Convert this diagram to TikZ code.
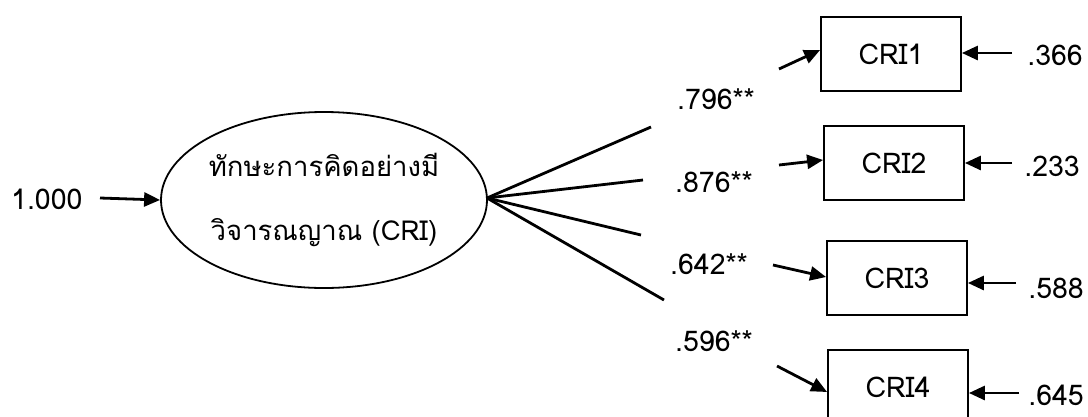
\documentclass[tikz,border=0pt]{standalone}
\usepackage{fontspec}
\setmainfont[Script=Thai]{Loma}
\usetikzlibrary{shapes.geometric,arrows.meta}
\begin{document}
\begin{tikzpicture}[x=1pt,y=-1pt,
  txt/.style={font=\fontsize{28.5}{32}\selectfont, inner sep=0pt},
  latent/.style={draw, ellipse, line width=1.8pt, minimum width=326pt, minimum height=176pt, inner sep=0pt,
    align=center, font=\fontsize{27.5}{64}\selectfont},
  observed/.style={draw, rectangle, line width=1.8pt, minimum width=140pt, minimum height=74pt, inner sep=0pt,
    font=\fontsize{28.5}{32}\selectfont},
  path/.style={line width=2.8pt},
  arr/.style={line width=2.8pt, -{Triangle[length=16pt,width=14pt]}}]
\clip (0,0) rectangle (1088,416);
\fill[white] (0,0) rectangle (1088,416);

% latent factor and its variance
\node[latent] (f) at (324,200) {ทักษะการคิดอย่างมี\\วิจารณญาณ (CRI)};
\node[txt, anchor=west] (fv) at (11,199) {1.000};
\coordinate (fvs) at (100,198);
\draw[arr] (fvs) -- (f.west);

% indicators
\node[observed] (c1) at (891,54) {CRI1};
\node[observed] (c2) at (894,163) {CRI2};
\node[observed] (c3) at (897,278) {CRI3};
\node[observed] (c4) at (898,387) {CRI4};

% loading lines fanning out of the factor
\coordinate (fo) at (487,198);
\coordinate (l1) at (651,127);
\coordinate (l2) at (643,180);
\coordinate (l3) at (641,235);
\coordinate (l4) at (664,300);
\foreach \i in {1,...,4} \draw[path] (fo) -- (l\i);

% loading labels
\node[txt] (w1) at (716,99) {.796**};
\node[txt] (w2) at (714,182) {.876**};
\node[txt] (w3) at (709,264) {.642**};
\node[txt] (w4) at (714,341) {.596**};

% arrows into the indicators
\coordinate (a1) at (779,69);
\coordinate (a2) at (779,165);
\coordinate (a3) at (773,265);
\coordinate (a4) at (777,366);
\draw[arr] (a1) -- (c1.west |- 0,50);
\draw[arr] (a2) -- (c2.west |- 0,160);
\draw[arr] (a3) -- (c3.west |- 0,277);
\draw[arr] (a4) -- (c4.west |- 0,392);

% error variances
\node[txt, anchor=east] (e1) at (1083,55) {.366};
\node[txt, anchor=east] (e2) at (1080,166) {.233};
\node[txt, anchor=east] (e3) at (1084,288) {.588};
\node[txt, anchor=east] (e4) at (1084,395) {.645};
\coordinate (r1) at (1012,53);
\coordinate (r2) at (1012,163);
\coordinate (r3) at (1016,283);
\coordinate (r4) at (1019,393);
\draw[arr] (r1) -- (c1.east |- r1);
\draw[arr] (r2) -- (c2.east |- r2);
\draw[arr] (r3) -- (c3.east |- r3);
\draw[arr] (r4) -- (c4.east |- r4);
\end{tikzpicture}
\end{document}
